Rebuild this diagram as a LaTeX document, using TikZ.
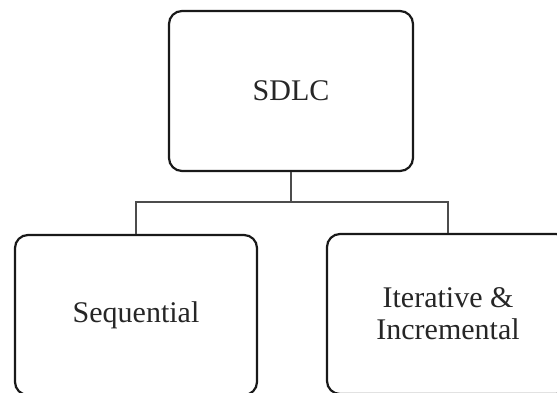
\documentclass[tikz,border=0pt]{standalone}
\usepackage{fontspec}
\setmainfont{Liberation Serif}
\begin{document}
\begin{tikzpicture}[x=1pt,y=-1pt,
  phase/.style={draw=black!90, line width=2.2pt, rounded corners=13pt,
    minimum width=242pt, minimum height=160pt, inner sep=0pt,
    align=center, text=black!85, font=\fontsize{30}{32}\selectfont},
  link/.style={draw=black!70, line width=1.3pt}]
  \clip (0,0) rectangle (557,393);
  \node[phase, minimum width=244pt] (sdlc) at (291,91) {SDLC};
  \node[phase] (seq) at (136,315) {Sequential};
  \node[phase] (iter) at (448,314) {Iterative \&\\Incremental};
  \coordinate (j) at (291,202);
  \draw[link] (sdlc.south) -- (j);
  \draw[link] (seq.north) |- (j) -| (iter.north);
\end{tikzpicture}
\end{document}
